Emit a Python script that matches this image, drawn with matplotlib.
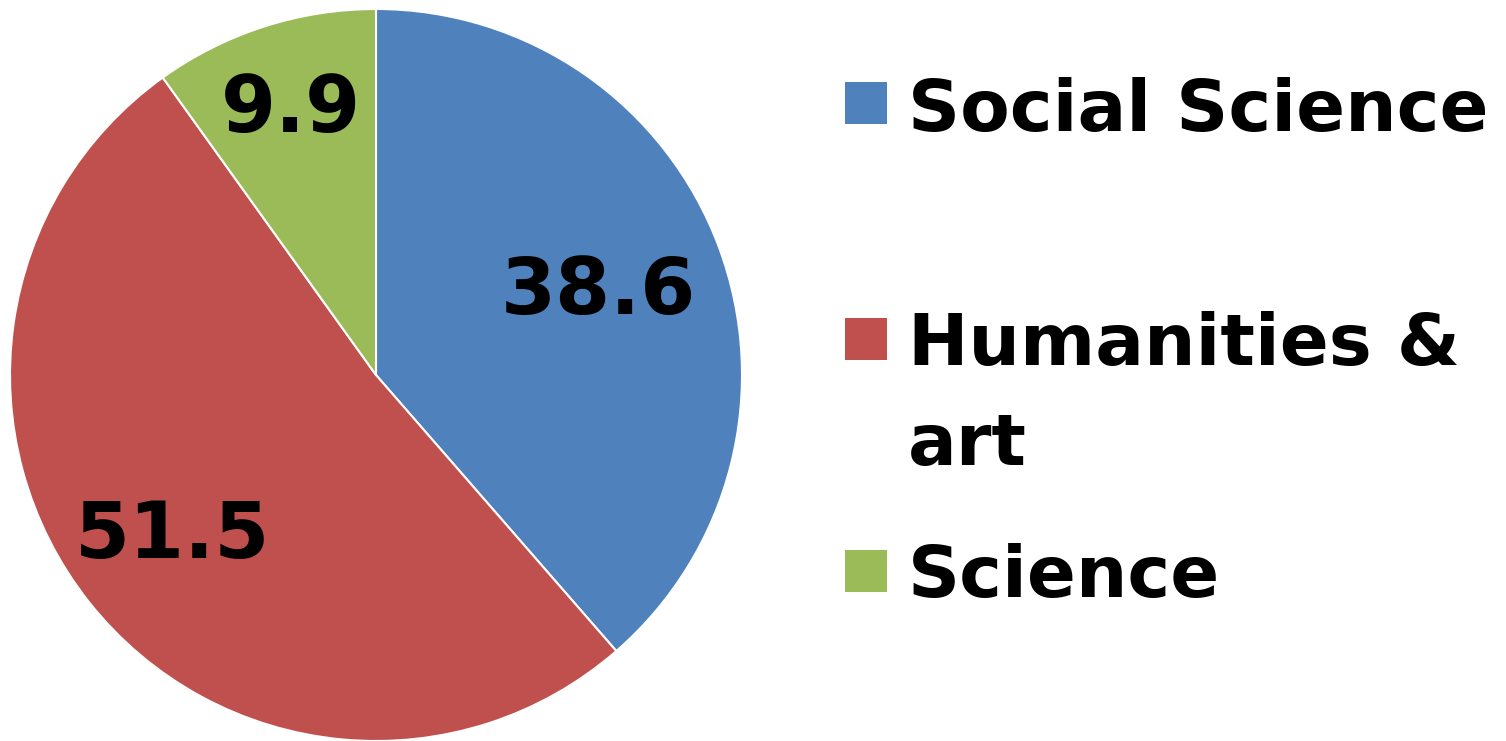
import matplotlib
matplotlib.use("Agg")
import matplotlib.pyplot as plt
from matplotlib.patches import Rectangle
import numpy as np

categories = ["Social Science", "Humanities &\nart", "Science"]
values = [38.6, 51.5, 9.9]
colors = ["#4F81BD", "#C0504D", "#9BBB59"]
label_dist = [0.65, 0.71, 0.76]

W, H = 1506, 741
fig = plt.figure(figsize=(W / 100, H / 100), dpi=100)
fig.patch.set_facecolor("white")

cx, cy, r = 376, 375, 366
ax = fig.add_axes([(cx - r) / W, (H - cy - r) / H, 2 * r / W, 2 * r / H])
wedges, _ = ax.pie(values, colors=colors, startangle=90, counterclock=False,
                   radius=1, wedgeprops=dict(edgecolor="white", linewidth=1.5))
ax.set_xlim(-1, 1)
ax.set_ylim(-1, 1)
ax.set_aspect("equal")
ax.axis("off")

for w, v, d in zip(wedges, values, label_dist):
    ang = np.deg2rad((w.theta1 + w.theta2) / 2)
    ax.text(d * np.cos(ang), d * np.sin(ang), f"{v}", ha="center", va="center",
            fontsize=57, fontweight="heavy", family="DejaVu Sans", color="black")

# legend drawn manually
sq_tops = [82, 318, 550]
baselines = [131, 365, 597]
line_gap = 100
for c, lab, top, bl in zip(colors, categories, sq_tops, baselines):
    fig.patches.append(Rectangle((845 / W, (H - top - 42) / H), 42 / W, 42 / H,
                                 transform=fig.transFigure, facecolor=c, edgecolor="none"))
    for i, line in enumerate(lab.split("\n")):
        fig.text(908 / W, (H - bl - i * line_gap) / H, line, ha="left", va="baseline",
                 fontsize=52, fontweight="heavy", family="DejaVu Sans", color="black")

fig.savefig("out.png", dpi=100)
